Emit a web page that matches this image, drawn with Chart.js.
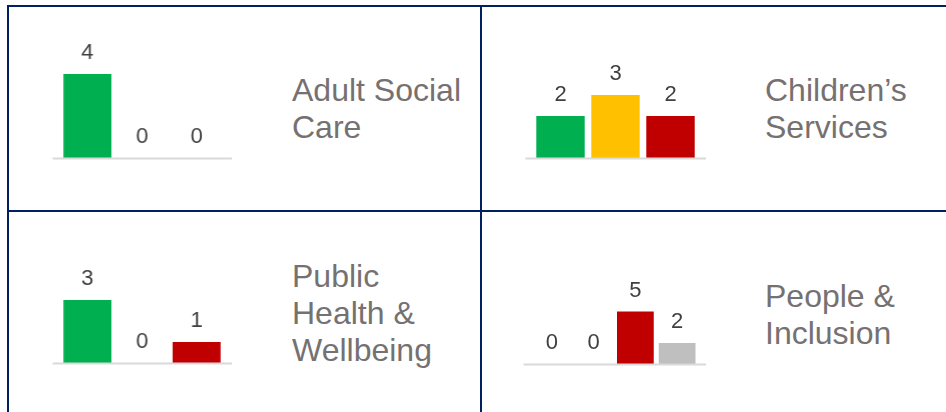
<!DOCTYPE html>
<html>
<head>
<meta charset="utf-8">
<script src="https://cdn.jsdelivr.net/npm/chart.js@4"></script>
<style>
  html, body { margin: 0; padding: 0; background: #ffffff; }
  body { width: 946px; height: 412px; position: relative; overflow: hidden; }
  .rule { position: absolute; background: #002060; }
  .title { position: absolute; font-family: "Liberation Sans", Arial, sans-serif; font-size: 32px; line-height: 37px; color: #767171; white-space: nowrap; }
  canvas { position: absolute; }
</style>
</head>
<body>
<div class="rule" style="left:7px; top:5px; width:939px; height:2px;"></div>
<div class="rule" style="left:7px; top:210px; width:939px; height:2px;"></div>
<div class="rule" style="left:7px; top:5px; width:2px; height:407px;"></div>
<div class="rule" style="left:480px; top:5px; width:2px; height:407px;"></div>

<canvas id="c0"></canvas>
<canvas id="c1"></canvas>
<canvas id="c2"></canvas>
<canvas id="c3"></canvas>
<div class="title" id="t0"></div>
<div class="title" id="t1"></div>
<div class="title" id="t2"></div>
<div class="title" id="t3"></div>

<script>
// ---- data ----
const panelTitles = [
  ["Adult Social", "Care"],
  ["Children\u2019s", "Services"],
  ["Public", "Health &", "Wellbeing"],
  ["People &", "Inclusion"]
];
const ragCategories = ["Green", "Amber", "Red"];
const ragCategoriesWithGrey = ["Green", "Amber", "Red", "Grey"];
const adultSocialCareValues = [4, 0, 0];
const childrensServicesValues = [2, 3, 2];
const publicHealthValues = [3, 0, 1];
const peopleInclusionValues = [0, 0, 5, 2];
const axisMax = [5, 5, 5, 10];

// ---- styles / layout ----
const barColors = ["#00B050", "#FFC000", "#C00000", "#BFBFBF"];
const panels = [
  { cats: ragCategories, vals: adultSocialCareValues, area: { left: 60, width: 163.5, bottom: 158 }, title: { left: 292, top: 72.4 } },
  { cats: ragCategories, vals: childrensServicesValues, area: { left: 532.5, width: 165, bottom: 158 }, title: { left: 765, top: 72.4 } },
  { cats: ragCategories, vals: publicHealthValues, area: { left: 60, width: 163.5, bottom: 363 }, title: { left: 292, top: 258.4 } },
  { cats: ragCategoriesWithGrey, vals: peopleInclusionValues, area: { left: 531, width: 167, bottom: 364 }, title: { left: 765, top: 278.4 } }
];
const PLOT_H = 105, PAD_L = 30, PAD_R = 30, PAD_T = 45, PAD_B = 25;

const decorPlugin = {
  id: 'decor',
  afterDatasetsDraw(chart) {
    const ctx = chart.ctx;
    const a = chart.chartArea;
    ctx.save();
    ctx.strokeStyle = '#D9D9D9';
    ctx.lineWidth = 2;
    ctx.beginPath();
    ctx.moveTo(a.left - 7.5, a.bottom + 0.5);
    ctx.lineTo(a.right + 8, a.bottom + 0.5);
    ctx.stroke();
    ctx.fillStyle = '#404040';
    ctx.font = '22px "Liberation Sans", Arial, sans-serif';
    ctx.textAlign = 'center';
    ctx.textBaseline = 'alphabetic';
    const meta = chart.getDatasetMeta(0);
    const data = chart.data.datasets[0].data;
    meta.data.forEach((bar, i) => {
      ctx.fillText(String(data[i]), bar.x, bar.y - 15);
    });
    ctx.restore();
  }
};

panels.forEach((p, idx) => {
  const cv = document.getElementById('c' + idx);
  const w = p.area.width + PAD_L + PAD_R;
  const h = PLOT_H + PAD_T + PAD_B;
  cv.width = w; cv.height = h;
  cv.style.width = w + 'px'; cv.style.height = h + 'px';
  cv.style.left = (p.area.left - PAD_L) + 'px';
  cv.style.top = (p.area.bottom - PLOT_H - PAD_T) + 'px';
  new Chart(cv, {
    type: 'bar',
    data: {
      labels: p.cats,
      datasets: [{
        data: p.vals,
        backgroundColor: barColors.slice(0, p.vals.length),
        borderWidth: 0,
        barPercentage: 0.88,
        categoryPercentage: 1.0
      }]
    },
    options: {
      responsive: false,
      animation: false,
      devicePixelRatio: 1,
      layout: { padding: { left: PAD_L, right: PAD_R, top: PAD_T, bottom: PAD_B } },
      plugins: { legend: { display: false }, tooltip: { enabled: false } },
      scales: {
        x: { display: false },
        y: { display: false, min: 0, max: axisMax[idx] }
      }
    },
    plugins: [decorPlugin]
  });
  const t = document.getElementById('t' + idx);
  t.style.left = p.title.left + 'px';
  t.style.top = p.title.top + 'px';
  t.innerHTML = panelTitles[idx].map(s => s.replace(/&/g, '&amp;')).join('<br>');
});
</script>
</body>
</html>
